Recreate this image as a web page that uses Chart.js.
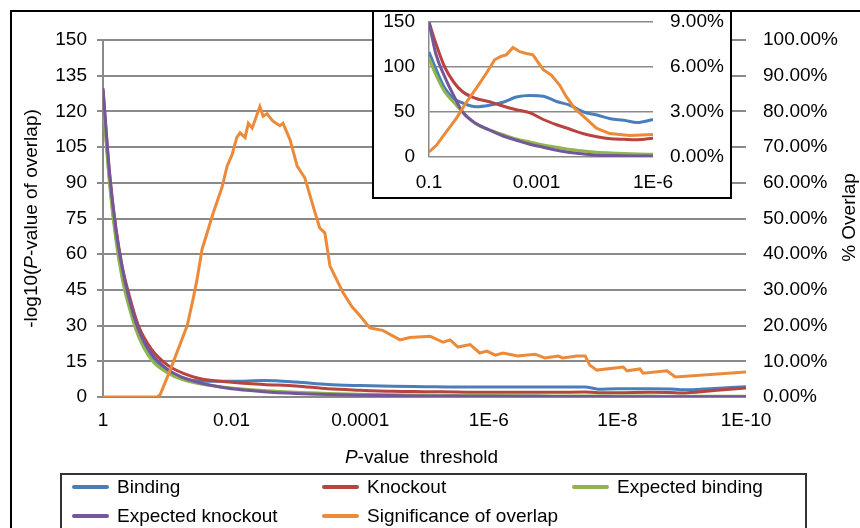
<!DOCTYPE html>
<html>
<head>
<meta charset="utf-8">
<script src="https://cdn.jsdelivr.net/npm/chart.js@4.4.1/dist/chart.umd.min.js"></script>
<style>
  body { margin: 0; background: #fff; font-family: 'Liberation Sans', Arial, sans-serif; }
  #wrap { position: relative; width: 860px; height: 528px; overflow: hidden; }
  #frame { position: absolute; left: 10px; top: 10px; width: 900px; height: 600px; border: 2px solid #000; box-sizing: border-box; }
  #main { position: absolute; left: 0; top: 0; }
  #insetBox { position: absolute; left: 372px; top: 10px; width: 360px; height: 189px; border: 2px solid #000; box-sizing: border-box; background: #fff; }
  #inset { display: block; }
  #legend { position: absolute; left: 60px; top: 473px; width: 747px; height: 80px; border: 2px solid #333; box-sizing: border-box; background: #fff; }
  .item { position: absolute; height: 22px; line-height: 22px; font-size: 19px; color: #000; white-space: nowrap; }
  .item span.swatch { display: inline-block; width: 37px; height: 4px; border-radius: 2px; vertical-align: middle; margin-right: 8px; position: relative; top: -1px; }
</style>
</head>
<body>
<div id="wrap">
  <canvas id="main" width="860" height="528"></canvas>
  <div id="frame"></div>
  <div id="insetBox"><canvas id="inset" width="356" height="185"></canvas></div>
  <div id="legend"></div>
</div>
<script>
// Series names and colours (Excel style)
const seriesNames = ['Binding', 'Knockout', 'Expected binding', 'Expected knockout', 'Significance of overlap'];
const seriesColors = ['#4A7EBB', '#B84440', '#8FB54C', '#74579B', '#EC8A3A'];

// Main chart: x = -log10(P-value threshold)
const xTickLabels = ['1', '0.01', '0.0001', '1E-6', '1E-8', '1E-10'];
const thresholdExp = [0, 0.1, 0.2, 0.3, 0.4, 0.55, 0.75, 1.0, 1.25, 1.5, 2.0, 2.5, 3.0, 3.5, 4.0, 4.5, 5.0, 5.5, 6.0, 6.5, 7.0, 7.5, 7.7, 8.0, 8.5, 8.9, 9.0, 9.5, 10.0];

// % overlap (right axis)
const binding = [84, 61, 45, 34, 26.5, 18, 11.5, 7.2, 5.3, 4.5, 4.4, 4.6, 4.2, 3.5, 3.2, 3.0, 2.9, 2.8, 2.8, 2.8, 2.8, 2.8, 2.2, 2.3, 2.3, 2.2, 2.0, 2.4, 2.9];
const knockout = [86, 63, 47.5, 36.5, 29, 20, 13.5, 9.0, 6.6, 5.2, 4.1, 3.5, 3.1, 2.3, 1.9, 1.6, 1.5, 1.4, 1.3, 1.3, 1.3, 1.4, 1.2, 1.2, 1.3, 1.2, 1.1, 1.8, 2.5];
const expBinding = [83, 60, 44, 33, 25.5, 17, 10.5, 6.8, 4.8, 3.7, 2.5, 1.8, 1.3, 1.0, 0.8, 0.65, 0.55, 0.45, 0.4, 0.35, 0.3, 0.3, 0.3, 0.25, 0.25, 0.2, 0.2, 0.2, 0.2];
const expKnockout = [86.5, 63, 47, 36, 28, 19, 12.3, 7.8, 5.4, 4.0, 2.3, 1.5, 1.0, 0.7, 0.5, 0.4, 0.3, 0.25, 0.2, 0.2, 0.15, 0.15, 0.15, 0.1, 0.1, 0.1, 0.1, 0.1, 0.1];

// -log10(P-value of overlap) (left axis)
const sigExp = [0, 0.84, 0.89, 1.04, 1.31, 1.40, 1.46, 1.54, 1.62, 1.71, 1.85, 1.93, 2.01, 2.08, 2.13, 2.21, 2.26, 2.32, 2.40, 2.44, 2.49, 2.55, 2.64, 2.75, 2.80, 2.91, 3.02, 3.14, 3.27, 3.37, 3.45, 3.53, 3.73, 3.87, 4.00, 4.15, 4.35, 4.62, 4.77, 5.09, 5.29, 5.40, 5.52, 5.71, 5.86, 5.97, 6.10, 6.22, 6.45, 6.72, 6.87, 7.08, 7.15, 7.37, 7.50, 7.57, 7.68, 8.09, 8.15, 8.35, 8.40, 8.77, 8.90, 10.0];
const sigLogP = [0, 0, 1, 11, 30, 41, 49, 62, 69, 77, 88, 97, 102, 109, 111, 109, 115, 113, 119, 122, 118, 119, 116, 114, 115, 108, 97, 92, 80, 71, 69, 55, 44, 38, 34, 29, 28, 24, 25, 25.5, 23, 24, 21, 22, 18.5, 19.3, 17.6, 18.5, 17.2, 18, 16.4, 17.2, 16.4, 17.2, 17.2, 13.4, 11.3, 12.6, 11, 11.8, 10, 11, 8.4, 10.5];

// Inset: thresholds 0.1 .. 1E-6 on a category-like position axis (0..100)
const insetTickPos = [0, 48, 100];
const insetTickLabels = ['0.1', '0.001', '1E-6'];
const insetPos = [0, 3, 7, 11, 15, 21, 27, 33, 39, 45, 51, 57, 63, 69, 75, 81, 87, 93, 100];
const insetBinding = [7.0, 5.9, 4.6, 3.9, 3.6, 3.35, 3.45, 3.65, 4.0, 4.1, 4.05, 3.7, 3.45, 3.0, 2.8, 2.55, 2.45, 2.3, 2.5];
const insetKnockout = [9.0, 7.6, 6.0, 5.0, 4.35, 3.9, 3.68, 3.4, 3.15, 2.95, 2.5, 2.15, 1.85, 1.55, 1.35, 1.22, 1.18, 1.15, 1.25];
const insetExpBinding = [6.6, 5.5, 4.35, 3.65, 3.0, 2.2, 1.8, 1.5, 1.2, 1.0, 0.8, 0.65, 0.5, 0.4, 0.32, 0.27, 0.23, 0.2, 0.18];
const insetExpKnockout = [9.0, 6.9, 5.36, 4.1, 3.0, 2.23, 1.8, 1.4, 1.12, 0.85, 0.65, 0.45, 0.3, 0.2, 0.12, 0.1, 0.08, 0.07, 0.07];
const insetSigPos = [0, 3.3, 7.7, 12.2, 16.7, 21, 25.6, 29.3, 32.3, 34.5, 37.5, 40.5, 43.5, 46.4, 51, 54.6, 58.3, 61.3, 65, 70, 74.7, 80.7, 89.6, 100];
const insetSigLogP = [5.6, 13, 28, 43, 61, 76, 93, 108, 112, 113.5, 121.7, 117, 115, 113.5, 97, 91, 80, 67, 54, 43, 32, 26, 24, 25];

const FONT = "'Liberation Sans', Arial, sans-serif";
const GRID = '#8a8a8a';
Chart.defaults.color = '#000';
Chart.defaults.font.family = FONT;
Chart.defaults.font.size = 19;

function pts(xs, ys) {
    return xs.map((x, i) => ({ x: x, y: ys[i] }));
}

function lineSet(idx, data, axis, width, smooth) {
    return {
        label: seriesNames[idx],
        data: data,
        yAxisID: axis,
        borderColor: seriesColors[idx],
        backgroundColor: seriesColors[idx],
        borderWidth: width,
        pointRadius: 0,
        fill: false,
        tension: 0,
        cubicInterpolationMode: smooth ? 'monotone' : 'default',
        order: 5 - idx // later series drawn on top, like Excel
    };
}

// Draws a title made of normal / italic pieces, rotated about its centre
function drawMixed(ctx, parts, cx, cy, angle) {
    ctx.save();
    ctx.translate(cx, cy);
    ctx.rotate(angle);
    ctx.textBaseline = 'middle';
    ctx.textAlign = 'left';
    ctx.fillStyle = '#000';
    let total = 0;
    parts.forEach(p => {
        ctx.font = (p[1] ? 'italic ' : '') + '19px ' + FONT;
        total += ctx.measureText(p[0]).width;
    });
    let x = -total / 2;
    parts.forEach(p => {
        ctx.font = (p[1] ? 'italic ' : '') + '19px ' + FONT;
        ctx.fillText(p[0], x, 0);
        x += ctx.measureText(p[0]).width;
    });
    ctx.restore();
}

const axisTitles = {
    id: 'axisTitles',
    afterDraw(chart) {
        const ctx = chart.ctx;
        const a = chart.chartArea;
        const midY = (a.top + a.bottom) / 2;
        drawMixed(ctx, [['-log10(', false], ['P', true], ['-value of overlap)', false]], a.left - 71, midY, -Math.PI / 2);
        drawMixed(ctx, [['% Overlap', false]], a.right + 104, midY - 1, -Math.PI / 2);
        drawMixed(ctx, [['P', true], ['-value  threshold', false]], (a.left + a.right) / 2 - 3, a.bottom + 61, 0);
    }
};

// Main chart
new Chart(document.getElementById('main'), {
    type: 'line',
    data: {
        datasets: [
            lineSet(0, pts(thresholdExp, binding), 'y2', 3, true),
            lineSet(1, pts(thresholdExp, knockout), 'y2', 3, true),
            lineSet(2, pts(thresholdExp, expBinding), 'y2', 3, true),
            lineSet(3, pts(thresholdExp, expKnockout), 'y2', 3, true),
            lineSet(4, pts(sigExp, sigLogP), 'y', 3, false)
        ]
    },
    options: {
        responsive: false,
        animation: false,
        events: [],
        layout: { padding: { top: 40, left: 0, right: 0, bottom: 0 } },
        plugins: { legend: { display: false }, tooltip: { enabled: false } },
        scales: {
            x: {
                type: 'linear',
                min: 0,
                max: 10,
                afterFit: s => { s.height = 131; },
                ticks: {
                    stepSize: 2,
                    padding: 12,
                    maxRotation: 0,
                    autoSkip: false,
                    callback: (v, i) => xTickLabels[i]
                },
                grid: { display: false, drawTicks: false },
                border: { display: false }
            },
            y: {
                position: 'left',
                min: 0,
                max: 150,
                afterFit: s => { s.width = 103; },
                ticks: { stepSize: 15, padding: 10 },
                grid: { color: GRID, lineWidth: 2, tickLength: 6, drawTicks: true },
                border: { display: true, color: GRID, width: 2 }
            },
            y2: {
                position: 'right',
                min: 0,
                max: 100,
                afterFit: s => { s.width = 114; },
                ticks: {
                    stepSize: 10,
                    padding: 17,
                    callback: v => v.toFixed(2) + '%'
                },
                grid: { display: false, drawTicks: false },
                border: { display: false }
            }
        }
    },
    plugins: [axisTitles]
});

// Inset chart (label gaps made with invisible tick marks so the plot keeps its top)
new Chart(document.getElementById('inset'), {
    type: 'line',
    data: {
        datasets: [
            lineSet(0, pts(insetPos, insetBinding), 'y2', 3, true),
            lineSet(1, pts(insetPos, insetKnockout), 'y2', 3, true),
            lineSet(2, pts(insetPos, insetExpBinding), 'y2', 3, true),
            lineSet(3, pts(insetPos, insetExpKnockout), 'y2', 3, true),
            lineSet(4, pts(insetSigPos, insetSigLogP), 'y', 3, false)
        ]
    },
    options: {
        responsive: false,
        animation: false,
        events: [],
        layout: { padding: { top: 10, left: 0, right: 0, bottom: 0 } },
        plugins: { legend: { display: false }, tooltip: { enabled: false } },
        scales: {
            x: {
                type: 'linear',
                min: 0,
                max: 100,
                afterFit: s => { s.height = 40; },
                afterBuildTicks: s => { s.ticks = insetTickPos.map(v => ({ value: v })); },
                ticks: {
                    padding: 14,
                    maxRotation: 0,
                    autoSkip: false,
                    callback: (v, i) => insetTickLabels[i]
                },
                grid: { display: false, drawTicks: false },
                border: { display: false }
            },
            y: {
                position: 'left',
                min: 0,
                max: 150,
                afterFit: s => { s.width = 55; },
                ticks: { stepSize: 50, padding: 0, font: { lineHeight: 1 } },
                grid: { color: GRID, lineWidth: 1.5, drawTicks: true, tickLength: 14, tickColor: 'rgba(0,0,0,0)' },
                border: { display: true, color: GRID, width: 1.5 }
            },
            y2: {
                position: 'right',
                min: 0,
                max: 9,
                afterFit: s => { s.width = 77; },
                ticks: {
                    stepSize: 3,
                    padding: 0,
                    font: { lineHeight: 1 },
                    callback: v => v.toFixed(2) + '%'
                },
                grid: { display: true, color: 'rgba(0,0,0,0)', drawOnChartArea: false, drawTicks: true, tickLength: 17, tickColor: 'rgba(0,0,0,0)' },
                border: { display: false }
            }
        }
    }
});

// Legend (three columns, boxed like Excel)
const legend = document.getElementById('legend');
seriesNames.forEach((name, i) => {
    const item = document.createElement('div');
    item.className = 'item';
    item.style.left = (10 + 250 * (i % 3)) + 'px';
    item.style.top = (1 + 29 * Math.floor(i / 3)) + 'px';
    item.innerHTML = '<span class="swatch" style="background:' + seriesColors[i] + '"></span>' + name;
    legend.appendChild(item);
});
</script>
</body>
</html>
